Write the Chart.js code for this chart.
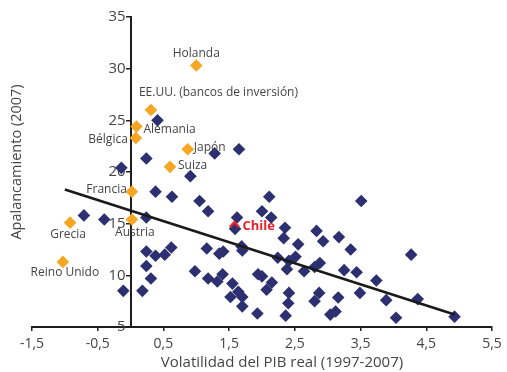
<!DOCTYPE html>
<html>
<head>
<meta charset="utf-8">
<script src="https://cdn.jsdelivr.net/npm/chart.js@4.4.0/dist/chart.umd.min.js"></script>
<style>
  body { margin: 0; background: #fff; }
</style>
</head>
<body>
<canvas id="grafico" width="507" height="372"></canvas>
<script>
// Países destacados (naranjo)
var paises = ['Holanda', 'EE.UU. (bancos de inversión)', 'Alemania', 'Bélgica', 'Japón', 'Suiza', 'Francia', 'Austria', 'Grecia', 'Reino Unido'];
var paisesX = [1.0, 0.31, 0.09, 0.08, 0.87, 0.60, 0.02, 0.02, -0.92, -1.03];
var paisesY = [30.3, 26.0, 24.4, 23.3, 22.2, 20.5, 18.1, 15.4, 15.1, 11.3];

// Resto de la muestra (azul)
var restoX = [-0.71, -0.40, 0.24, 0.38, 0.63, 0.91, 1.05, 0.24, 0.38, 0.52, 0.62, 0.24, 0.31, -0.11, 0.18, 0.98,
  0.41, 0.24, -0.14, 1.28, 1.65, 1.18, 1.62, 1.59, 1.16, 1.35, 1.41, 1.69, 1.70, 1.18, 1.32, 1.40, 1.55, 1.52,
  1.64, 1.70, 1.70, 1.93, 1.94, 2.11, 2.00, 2.14, 2.35, 2.33, 2.55, 2.83, 2.93, 3.17, 2.24, 2.41, 2.51, 2.38,
  2.64, 2.80, 2.88, 3.25, 3.35, 3.51, 4.27, 3.44, 3.74, 2.00, 2.15, 2.07, 2.41, 2.40, 2.36, 2.87, 2.80, 3.16,
  3.04, 3.12, 3.49, 3.89, 4.37, 4.04, 4.93];
var restoY = [15.8, 15.4, 15.6, 18.1, 17.6, 19.6, 17.2, 12.3, 11.9, 12.0, 12.7, 10.9, 9.7, 8.5, 8.5, 10.4,
  25.0, 21.3, 20.4, 21.8, 22.2, 16.2, 15.6, 14.5, 12.6, 12.1, 12.3, 12.8, 12.4, 9.7, 9.4, 10.1, 9.2, 7.9,
  8.4, 7.9, 7.0, 6.3, 10.1, 17.6, 16.2, 15.6, 14.6, 13.6, 13.0, 14.3, 13.3, 13.7, 11.7, 11.4, 11.8, 10.6,
  10.4, 10.8, 11.2, 10.5, 12.5, 17.2, 12.0, 10.3, 9.5, 9.9, 9.3, 8.6, 8.3, 7.3, 6.1, 8.3, 7.5, 7.85,
  6.2, 6.5, 8.3, 7.6, 7.7, 5.9, 6.0];

// Chile
var chileX = [1.58];
var chileY = [14.95];

// Recta de regresión
var rectaX = [-1.0, 4.93];
var rectaY = [18.3, 6.2];

var ticksX = [-1.5, -0.5, 0.5, 1.5, 2.5, 3.5, 4.5, 5.5];

function puntos(xs, ys) {
    return xs.map(function (x, i) { return { x: x, y: ys[i] }; });
}

// marcador rojo en forma de "^" para Chile
var marcaChile = document.createElement('canvas');
marcaChile.width = 11;
marcaChile.height = 8;
var mc = marcaChile.getContext('2d');
mc.strokeStyle = '#e8202a';
mc.lineWidth = 2.6;
mc.beginPath();
mc.moveTo(1, 7);
mc.lineTo(5.5, 2);
mc.lineTo(10, 7);
mc.stroke();

var fuente = '"Open Sans", "Noto Sans", sans-serif';
var gris = '#454545';

// posición de cada etiqueta respecto a su punto: [dx, dy, alineación]
var desplaz = [
    [0, -12, 'center'], [-12, -17, 'left'], [7, 3, 'left'], [-8, 2, 'right'], [6, -2, 'left'],
    [8, -1, 'left'], [-5, -2, 'right'], [3, 13, 'center'], [-2, 12, 'center'], [2, 11, 'center']
];

var etiquetas = {
    id: 'etiquetas',
    afterDatasetsDraw: function (chart) {
        var ctx = chart.ctx;
        var sx = chart.scales.x, sy = chart.scales.y;
        ctx.save();
        ctx.textBaseline = 'middle';
        ctx.font = '12px ' + fuente;
        ctx.fillStyle = gris;
        paises.forEach(function (p, i) {
            var d = desplaz[i];
            ctx.textAlign = d[2];
            ctx.fillText(p, sx.getPixelForValue(paisesX[i]) + d[0], sy.getPixelForValue(paisesY[i]) + d[1]);
        });
        ctx.font = 'bold 13px ' + fuente;
        ctx.fillStyle = '#e8202a';
        ctx.textAlign = 'left';
        ctx.fillText('Chile', sx.getPixelForValue(chileX[0]) + 8, sy.getPixelForValue(chileY[0]) + 2);

        // títulos de los ejes
        ctx.fillStyle = gris;
        ctx.textAlign = 'center';
        ctx.font = '15px ' + fuente;
        ctx.fillText('Volatilidad del PIB real (1997-2007)', 282, 363);
        ctx.translate(17, 162);
        ctx.rotate(-Math.PI / 2);
        ctx.font = '14.5px ' + fuente;
        ctx.fillText('Apalancamiento (2007)', 0, 0);
        ctx.restore();
    }
};

new Chart(document.getElementById('grafico'), {
    type: 'scatter',
    data: {
        datasets: [{
            label: 'Chile',
            data: puntos(chileX, chileY),
            pointStyle: marcaChile,
            order: 0
        }, {
            label: 'Recta',
            type: 'line',
            data: puntos(rectaX, rectaY),
            borderColor: '#1a1a1a',
            borderWidth: 2.6,
            pointRadius: 0,
            showLine: true,
            fill: false,
            order: 1
        }, {
            label: 'Países',
            data: puntos(paisesX, paisesY),
            pointStyle: 'rectRot',
            pointRadius: 6.3,
            backgroundColor: '#f6a623',
            borderColor: '#f6a623',
            borderWidth: 0,
            order: 2
        }, {
            label: 'Resto',
            data: puntos(restoX, restoY),
            pointStyle: 'rectRot',
            pointRadius: 6.3,
            backgroundColor: '#2d3070',
            borderColor: '#2d3070',
            borderWidth: 0,
            order: 3
        }]
    },
    options: {
        responsive: false,
        animation: false,
        layout: { padding: { left: 32, right: 15, top: 17, bottom: 0 } },
        plugins: {
            legend: { display: false },
            tooltip: { enabled: false }
        },
        scales: {
            x: {
                type: 'linear',
                min: -1.5,
                max: 5.5,
                afterBuildTicks: function (scale) {
                    scale.ticks = ticksX.map(function (v) { return { value: v }; });
                },
                afterFit: function (scale) { scale.height = 45; },
                grid: { drawOnChartArea: false, drawTicks: true, tickLength: 4, color: '#222', lineWidth: 1.5 },
                border: { display: true, color: '#1e1e1e', width: 2 },
                ticks: {
                    padding: 5,
                    color: gris,
                    font: { family: fuente, size: 14 },
                    callback: function (v) { return v.toFixed(1).replace('.', ','); }
                }
            },
            y: {
                type: 'linear',
                position: { x: 0 },
                min: 5,
                max: 35,
                grid: { drawOnChartArea: false, drawTicks: true, tickLength: 4, color: '#222', lineWidth: 1.5 },
                border: { display: true, color: '#1e1e1e', width: 2 },
                ticks: {
                    stepSize: 5,
                    color: gris,
                    font: { family: fuente, size: 15 },
                    // el eje cruza en x = 0: separar el número del eje
                    callback: function (v) { return v + '\u2009\u2009'; }
                }
            }
        }
    },
    plugins: [etiquetas]
});
</script>
</body>
</html>
